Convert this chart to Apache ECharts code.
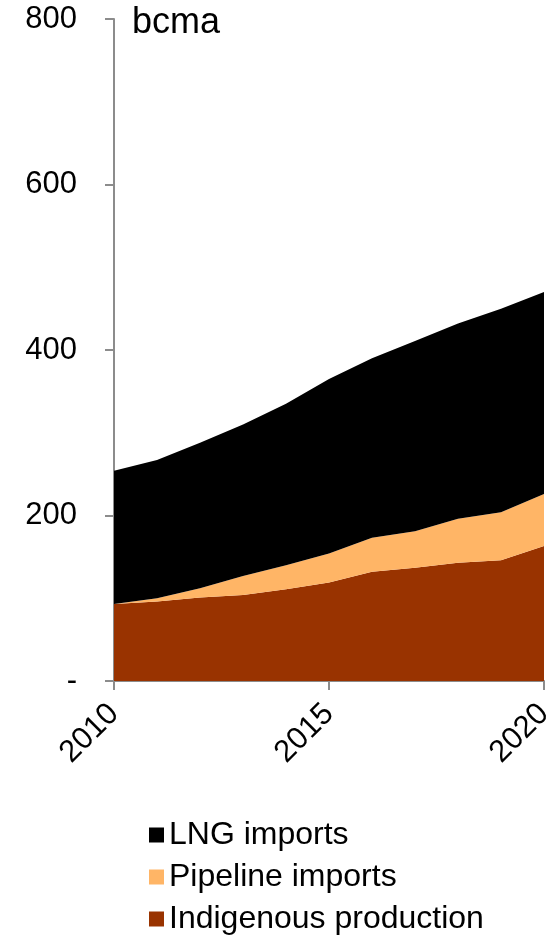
<!DOCTYPE html>
<html>
<head>
<meta charset="utf-8">
<script src="https://cdn.jsdelivr.net/npm/echarts@6/dist/echarts.min.js"></script>
<style>
  html, body { margin: 0; padding: 0; background: #fff; }
  #chart { width: 559px; height: 939px; }
</style>
</head>
<body>
<div id="chart"></div>
<script>
// Gas supply by source, bcma
const years = ['2010','2011','2012','2013','2014','2015','2016','2017','2018','2019','2020'];
const indigenous = [93, 96, 101, 104, 111, 119, 132, 137, 143, 146, 163];
const pipeline = [0, 4, 11, 23, 29, 35, 41, 44, 53, 58, 63];
const lng = [161, 167, 176, 183, 195, 211, 217, 230, 236, 246, 244];
const yTicks = [0, 200, 400, 600, 800];

const FONT = 'Liberation Sans, Arial, sans-serif';
const axisGrey = '#8c8c8c';

function area(name, data, color) {
  return {
    name: name,
    type: 'line',
    stack: 'supply',
    data: data,
    symbol: 'none',
    lineStyle: { width: 0 },
    areaStyle: { color: color, opacity: 1 },
    itemStyle: { color: color },
    emphasis: { disabled: true }
  };
}

const chart = echarts.init(document.getElementById('chart'), null, { renderer: 'canvas' });
chart.setOption({
  animation: false,
  title: {
    text: 'bcma',
    left: 127, top: 0,
    textStyle: { fontFamily: FONT, fontSize: 36, fontWeight: 'normal', color: '#000' }
  },
  grid: { left: 114, right: 15, top: 19, bottom: 258 },
  legend: {
    orient: 'vertical',
    left: 144, top: 813, height: 130,
    data: ['LNG imports', 'Pipeline imports', 'Indigenous production'],
    icon: 'rect',
    itemWidth: 15, itemHeight: 15,
    itemGap: 8,
    textStyle: { fontFamily: FONT, fontSize: 32, color: '#000', lineHeight: 34 }
  },
  xAxis: {
    type: 'category',
    data: years,
    boundaryGap: false,
    axisLine: { lineStyle: { color: axisGrey, width: 2 } },
    axisTick: { interval: 4, length: 9, lineStyle: { color: axisGrey, width: 2 } },
    axisLabel: {
      interval: 4, rotate: 45, margin: 28,
      fontFamily: FONT, fontSize: 31, color: '#000'
    }
  },
  yAxis: {
    type: 'value',
    min: yTicks[0], max: yTicks[yTicks.length - 1], interval: 200,
    splitLine: { show: false },
    axisLine: { show: true, lineStyle: { color: axisGrey, width: 2 } },
    axisTick: { show: true, length: 9, lineStyle: { color: axisGrey, width: 2 } },
    axisLabel: {
      margin: 37,
      fontFamily: FONT, fontSize: 31, color: '#000',
      formatter: v => (v === 0 ? '-' : String(v))
    }
  },
  series: [
    area('Indigenous production', indigenous, '#993300'),
    area('Pipeline imports', pipeline, '#FFB566'),
    area('LNG imports', lng, '#000000')
  ]
});
</script>
</body>
</html>
